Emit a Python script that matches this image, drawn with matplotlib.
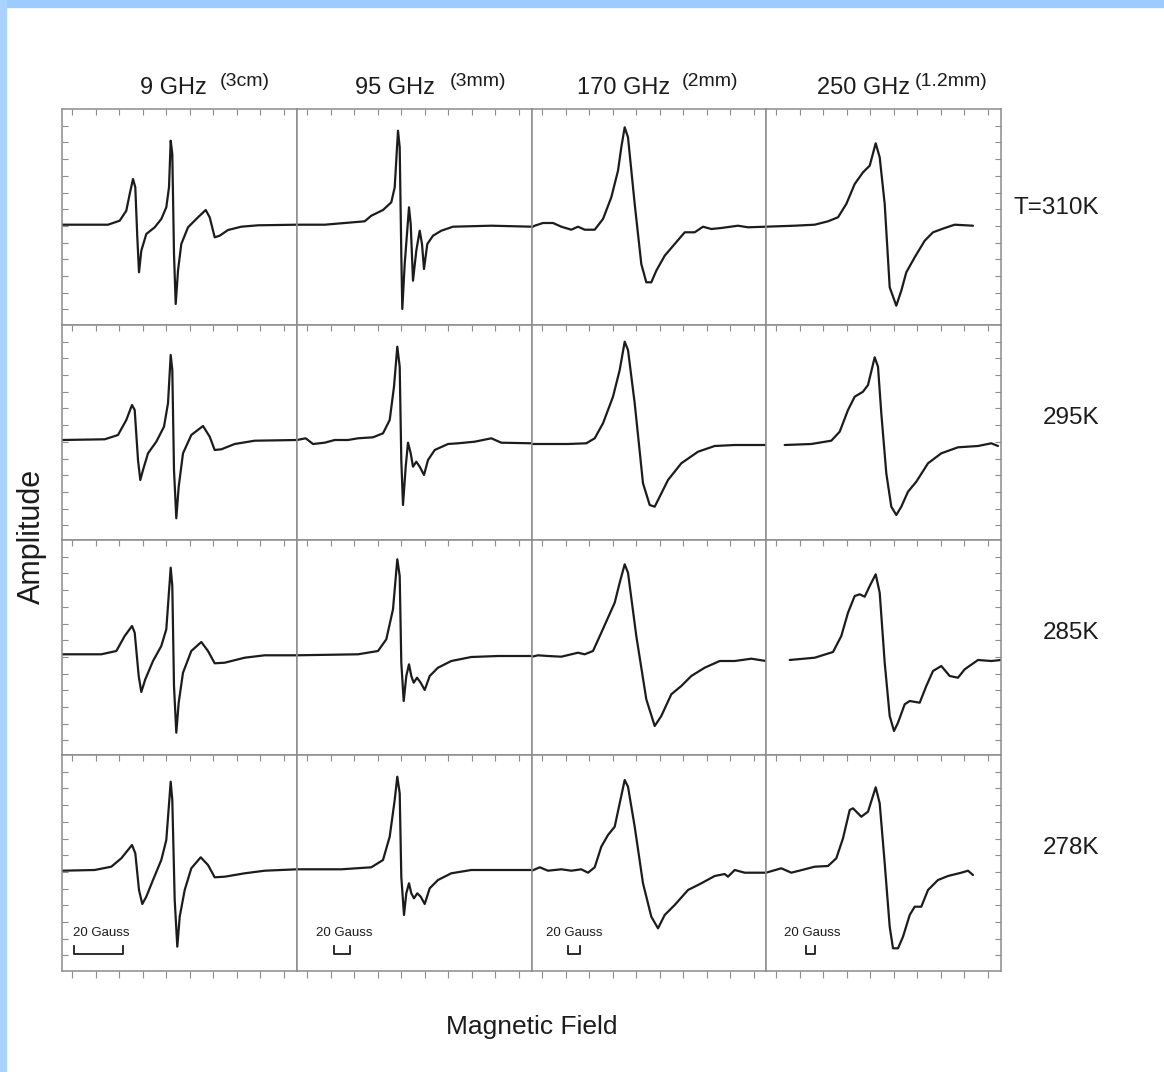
import matplotlib
matplotlib.use('Agg')
import matplotlib.pyplot as plt
import numpy as np
from matplotlib.patches import Rectangle

W, H = 1164, 1072

freqs = ['9 GHz', '95 GHz', '170 GHz', '250 GHz']
waves = ['(3cm)', '(3mm)', '(2mm)', '(1.2mm)']
temps = ['T=310K', '295K', '285K', '278K']
scale_label = '20 Gauss'

# spectra as (field, signal) pairs; signal counted downward from the panel top
s9_310 = [(0, 115.7), (46, 115.7), (57.7, 111.7), (64.3, 101.7), (67.7, 85), (71, 70), (73.3, 78.3),
          (75.3, 128.3), (77, 163.3), (79.3, 141.7), (84.3, 125), (92.7, 118.3), (99.3, 110),
          (104.3, 98.3), (107, 78.3), (108.7, 31.7), (110.3, 45), (112, 145), (113.7, 195),
          (116, 161.7), (119.3, 135), (126, 118.3), (136, 108.3), (143.7, 101), (147.7, 108.3),
          (152.7, 128.3), (157.7, 126.7), (166, 121), (179.3, 117.7), (196, 116.3), (235, 115.7)]
s95_310 = [(0, 115.7), (27.7, 115.7), (67.7, 112.3), (74.3, 106.7), (86, 101), (94.3, 93.3),
           (97.7, 78.3), (101, 21.7), (102.7, 38.3), (104.3, 145), (105.3, 200), (107.7, 155),
           (112, 98.3), (113.7, 115), (116, 171.7), (119.3, 141.7), (122.7, 121.7), (125, 135),
           (127, 160), (130.3, 135), (136, 126.7), (144.3, 121.7), (156, 117.7), (194.3, 116.7),
           (235, 117.7)]
s170_310 = [(0, 118.3), (2.7, 116.7), (11, 114), (21, 114), (29.3, 117.7), (39.3, 120.7), (46, 117.7),
            (52.7, 120.7), (62.7, 120.7), (71, 110), (79.3, 88.3), (86, 61.7), (89.3, 38.3),
            (92.7, 18.3), (96, 28.3), (102.7, 95), (109.3, 155), (114.3, 173.3), (119.3, 173.3),
            (124.3, 161.7), (132.7, 146.7), (142.7, 135), (152.7, 123.3), (162.7, 123.3),
            (171, 117.7), (179.3, 120), (189.3, 119), (206, 116.7), (216, 118.3), (234, 117.7)]
s250_310 = [(0, 117.7), (28.7, 116.7), (48.7, 115.7), (62, 112.3), (72, 108.3), (80.3, 95), (88.7, 75),
            (97, 63.3), (103.7, 56.7), (109.7, 34.3), (113.7, 48.3), (118.7, 95), (123.7, 178.3),
            (130.3, 196.7), (135.3, 181.7), (140.3, 163.3), (148.7, 148.3), (158.7, 131.7),
            (167, 123.3), (178.7, 119), (188.7, 115.7), (207, 116.7)]

s9_295 = [(0, 115), (42.7, 114.3), (56, 110), (64.3, 95), (70, 80), (72.7, 85), (76, 135), (78.3, 155),
          (81, 145), (86, 128.3), (94.3, 116.7), (102, 101.7), (106, 78.3), (108.7, 30), (110.3, 45),
          (112, 145), (114.3, 193.3), (116.7, 161.7), (121, 128.3), (129.3, 110), (141, 101),
          (147.7, 111.7), (152.7, 125), (159.3, 124.3), (172.7, 119), (192.7, 115.7), (235, 115)]
s95_295 = [(0, 115), (8.7, 113.3), (16, 119), (27.7, 117.7), (37.7, 115), (51, 115), (61, 113.3),
           (76, 112.3), (86, 108.3), (92.7, 95), (97, 61.7), (100.3, 21.7), (102.7, 41.7),
           (104.3, 135), (106, 180), (108.7, 141.7), (111, 117.7), (113.7, 128.3), (116, 141.7),
           (119.3, 136.7), (122.7, 141.7), (127, 150), (131, 135), (137.7, 125), (151, 119),
           (161, 118.3), (177.7, 116.7), (194.3, 113.3), (204.3, 117.7), (235, 118.3)]
s170_295 = [(0, 119), (36, 119), (54.3, 118.3), (62.7, 113.3), (71, 98.3), (81, 71.7), (87.7, 45),
            (92.7, 16.7), (96, 25), (102.7, 78.3), (111, 158.3), (117.7, 180), (122.7, 181.7),
            (127.7, 171.7), (136, 155), (149.3, 138.3), (166, 126.7), (182.7, 121), (202.7, 120),
            (234, 120)]
s250_295 = [(18.7, 120), (45.3, 119), (65.3, 115.7), (73.7, 106.7), (82, 85), (88.7, 71.7), (97, 66.7),
            (102, 60), (108.7, 32.3), (112, 41.7), (115.3, 88.3), (120.3, 148.3), (125.3, 181.7),
            (130.3, 190), (135.3, 181.7), (142, 166.7), (150.3, 156.7), (162, 138.3), (175.3, 128.3),
            (192, 122.3), (212, 121), (225.3, 118.3), (232, 121)]

s9_285 = [(0, 114.3), (39.3, 114.3), (54.3, 111), (62.7, 96), (70, 86), (72.7, 92.7), (76.7, 136),
          (79.3, 152), (83.3, 139.3), (91, 121), (99.3, 106), (104.3, 89.3), (108.7, 27.7),
          (110.3, 46), (112, 146), (114.3, 192.7), (116.7, 162.7), (121, 132.7), (129.3, 111),
          (139.3, 102), (146, 111), (152.7, 123.3), (162.7, 122.7), (182.7, 117.7), (202.7, 115.3),
          (235, 115.3)]
s95_285 = [(0, 115.3), (61, 114.3), (81, 111), (89.3, 99.3), (96, 69.3), (100.3, 19.3), (102.7, 36),
           (104.3, 122.7), (106.7, 161), (109.3, 136), (112, 124.3), (114.3, 136), (116.7, 142.7),
           (120, 137.7), (123.7, 142.7), (127.7, 150), (132.7, 136), (141, 127.7), (154.3, 121),
           (174.3, 117), (201, 116), (235, 116)]
s170_285 = [(0, 116.7), (6, 115.3), (16, 116), (29.3, 116.7), (46, 112.7), (52.7, 114.3), (61, 111),
            (69.3, 92.7), (82.7, 62.7), (87.7, 42.7), (92.7, 24.3), (96, 32.7), (104.3, 96),
            (114.3, 159.3), (122.7, 186), (129.3, 176), (139.3, 154.3), (149.3, 146), (159.3, 136),
            (172.7, 127.7), (187.7, 121), (202.7, 121), (219.3, 118.7), (234, 121)]
s250_285 = [(23.7, 120), (48.7, 117.7), (67, 112), (75.3, 96), (82, 72.7), (88.7, 56), (93.7, 54.3),
            (98.7, 56.7), (103.7, 46), (109.7, 34.3), (113.7, 52.7), (118.7, 122.7), (123.7, 176),
            (128, 191), (132, 182.7), (138.7, 164.3), (143.7, 161), (153.7, 162.7), (160.3, 146),
            (167, 131), (175.3, 126), (183.7, 136), (192, 137.7), (198.7, 129.3), (212, 120),
            (225.3, 121), (235, 120)]

s9_278 = [(0, 115.7), (32.7, 115), (49.3, 111.7), (59.3, 103.3), (70, 90), (73.3, 98.3), (77, 135),
          (80.3, 149), (84.3, 141.7), (91, 125), (99.3, 105), (104.3, 85), (108.7, 26.7),
          (110.3, 45), (112.7, 145), (115.3, 191.7), (117.7, 161.7), (122.7, 135), (129.3, 113.3),
          (138.7, 102.3), (146, 110), (152.7, 122.3), (162.7, 121.7), (182.7, 118.3),
          (202.7, 115.7), (235, 114.3)]
s95_278 = [(0, 114.3), (44.3, 114.3), (74.3, 112.3), (86, 105), (92.7, 81.7), (97.7, 45),
           (100.3, 21.7), (102.7, 38.3), (104.3, 121.7), (107, 160), (109.3, 138.3), (112, 128.3),
           (114.3, 138.3), (117, 143.3), (120.3, 138.3), (123.7, 141.7), (127.7, 149), (132.7, 133.3),
           (141, 125), (154.3, 118.3), (174.3, 115), (235, 115)]
s170_278 = [(0, 115.7), (7.7, 112.3), (16, 115.7), (29.3, 114.3), (39.3, 115.7), (49.3, 114.3),
            (56, 117.7), (62.7, 112.3), (69.3, 91.7), (76, 80), (82.7, 71.7), (87.7, 48.3), (92.7, 25),
            (96, 31.7), (102.7, 71.7), (111, 128.3), (119.3, 161.7), (126, 173.3), (132.7, 160),
            (142.7, 150), (156, 135), (169.3, 128.3), (182.7, 121), (192.7, 119), (196, 121.7),
            (202.7, 115), (212.7, 117.7), (234, 117.7)]
s250_278 = [(0, 117.7), (15.3, 113.3), (25.3, 117.7), (38.7, 114.3), (48.7, 111.7), (62, 111),
            (70.3, 103.3), (77, 83.3), (83.7, 55), (87, 53.3), (95.3, 61.7), (102, 56.7), (109.7, 32.3),
            (113.7, 48.3), (118.7, 108.3), (123.7, 171.7), (127, 193.3), (132, 193.3), (137, 181.7),
            (143.7, 160), (148.7, 151.7), (155.3, 151.7), (162, 135), (172, 125), (182, 121),
            (195.3, 117.7), (202, 115.7), (207, 120)]

spectra = [[s9_310, s95_310, s170_310, s250_310],
           [s9_295, s95_295, s170_295, s250_295],
           [s9_285, s95_285, s170_285, s250_285],
           [s9_278, s95_278, s170_278, s250_278]]

# 20 G bar span (field units) in each frequency column
bar_span = [(12, 61), (37, 53), (36, 48), (40, 49)]
bar_text_x = [11, 19, 14, 18]

col_edges = [62, 297, 532, 766, 1001]
row_edges = [109, 325, 540, 755, 971]

font = ['Liberation Sans', 'DejaVu Sans']
ink = '#1c1c1c'
frame = '#8c8c8c'

fig = plt.figure(figsize=(W / 100, H / 100), dpi=100)
fig.patch.set_facecolor('white')

# light blue page border
fig.patches.append(Rectangle((0, 1 - 7 / H), 1, 7 / H, transform=fig.transFigure,
                             color='#9ccbff', zorder=0))
fig.patches.append(Rectangle((0, 0), 6 / W, 1, transform=fig.transFigure,
                             color='#a9d2ff', zorder=0))

for r in range(4):
    for c in range(4):
        x0, x1 = col_edges[c], col_edges[c + 1]
        y0, y1 = row_edges[r], row_edges[r + 1]
        pw, ph = x1 - x0, y1 - y0
        ax = fig.add_axes([x0 / W, 1 - y1 / H, pw / W, ph / H])
        ax.set_xlim(0, pw)
        ax.set_ylim(ph, 0)
        for sp in ax.spines.values():
            sp.set_color(frame)
            sp.set_linewidth(1.1)

        pts = np.array(spectra[r][c])
        ax.plot(pts[:, 0], pts[:, 1], color=ink, lw=1.6, solid_joinstyle='round',
                solid_capstyle='round')

        # ticks: top on every panel, left/right on outer columns, bottom under last row
        ax.set_xticks(np.arange(10, pw, 23.5))
        ax.set_yticks(np.arange(16.7, ph - 2, 16.7))
        ax.tick_params(axis='x', top=True, bottom=False, direction='in', length=4,
                       width=0.8, color=frame, labelbottom=False, labeltop=False)
        if r == 3:
            ax.tick_params(axis='x', bottom=True)
            ax.xaxis.set_tick_params(which='major', direction='out', length=5)
            for t in ax.xaxis.get_major_ticks():
                t.tick2line.set_marker(3)
                t.tick2line.set_markersize(4)
        ax.tick_params(axis='y', left=(c == 0), right=(c == 3), direction='in',
                       length=4, width=0.8, color=frame, labelleft=False, labelright=False)

        if r == 3:
            b0, b1 = bar_span[c]
            ax.plot([b0, b0, b1, b1], [191, 199, 199, 191], color=ink, lw=1.3)
            ax.text(bar_text_x[c], 178, scale_label, fontsize=9.5, family=font,
                    color=ink, ha='left', va='center')

# column headings
title_x = [140, 355, 577, 817]
wave_x = [220, 450, 682, 915]
for i in range(4):
    fig.text(title_x[i] / W, 1 - 88 / H, freqs[i], fontsize=17, family=font,
             color=ink, ha='left', va='center')
    fig.text(wave_x[i] / W, 1 - 82 / H, waves[i], fontsize=14, family=font,
             color=ink, ha='left', va='center')

# temperature labels
temp_y = [208, 418, 633, 848]
for i in range(4):
    fig.text(1099 / W, 1 - temp_y[i] / H, temps[i], fontsize=17.5, family=font,
             color=ink, ha='right', va='center')

fig.text(532 / W, 1 - 1027 / H, 'Magnetic Field', fontsize=19, family=font,
         color=ink, ha='center', va='center')
fig.text(32 / W, 1 - 536 / H, 'Amplitude', fontsize=22, family=font,
         color=ink, ha='center', va='center', rotation=90)

fig.savefig('out.png', dpi=100, facecolor='white')
